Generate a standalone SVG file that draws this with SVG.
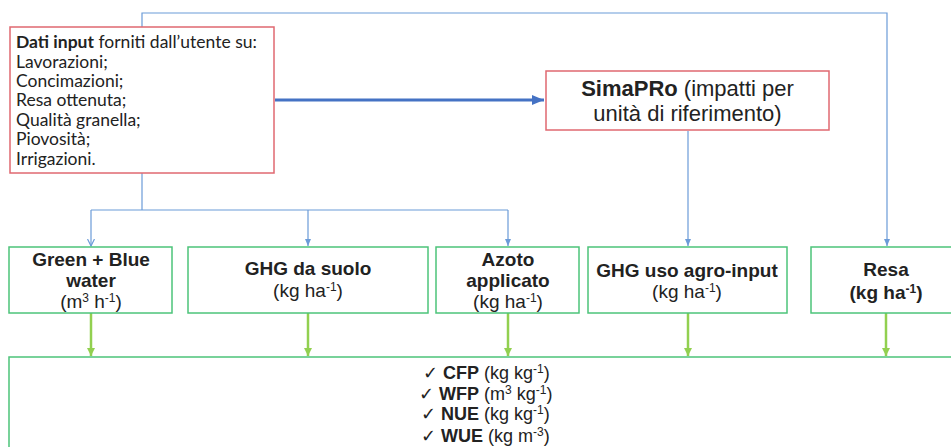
<svg xmlns="http://www.w3.org/2000/svg" width="951" height="447" viewBox="0 0 951 447">
<defs>
<style>
.red{fill:#fff;stroke:#e06870;stroke-width:1.5}
.grn{fill:#fff;stroke:#4cc47a;stroke-width:1.5}
.blue{fill:none;stroke:#6b9bd8;stroke-width:1.2}
.thick{fill:none;stroke:#4472c4;stroke-width:3}
.lime{fill:none;stroke:#92d050;stroke-width:2.5}
.cal{font-family:Lato,"Open Sans","Liberation Sans",sans-serif;font-size:17.5px;fill:#222}
.ar{font-family:"Liberation Sans",Arial,sans-serif;fill:#222}
.b{font-weight:bold}
.box{font-size:19px;text-anchor:middle}
.sup{font-size:12px}
</style>
<marker id="ab" markerWidth="8" markerHeight="8" refX="7" refY="4" orient="auto" markerUnits="userSpaceOnUse">
<path d="M0,0.5 L7,4 L0,7.5" fill="none" stroke="#6b9bd8" stroke-width="1.2"/>
</marker>
<marker id="abf" markerWidth="8" markerHeight="8" refX="7" refY="4" orient="auto" markerUnits="userSpaceOnUse">
<path d="M0,1 L7,4 L0,7 Z" fill="#6b9bd8"/>
</marker>
<marker id="at" markerWidth="14" markerHeight="12" refX="12" refY="6" orient="auto" markerUnits="userSpaceOnUse">
<path d="M0,1 L12,6 L0,11 Z" fill="#4472c4"/>
</marker>
<marker id="ag" markerWidth="10" markerHeight="10" refX="8" refY="5" orient="auto" markerUnits="userSpaceOnUse">
<path d="M0,1 L8,5 L0,9 Z" fill="#92d050"/>
</marker>
</defs>
<rect width="951" height="447" fill="#fff"/>

<g id="connectors">
<path class="blue" d="M142,27 V13 H887 V246" marker-end="url(#abf)"/>
<path class="blue" d="M142,173 V210"/>
<path class="blue" d="M91,210 H508"/>
<path class="blue" d="M91,210 V246" marker-end="url(#ab)"/>
<path class="blue" d="M308,210 V246" marker-end="url(#abf)"/>
<path class="blue" d="M508,210 V246" marker-end="url(#abf)"/>
<path class="blue" d="M688,131 V246" marker-end="url(#abf)"/>
<path class="thick" d="M275,100 H544" marker-end="url(#at)"/>
<path class="lime" d="M91,313 V356" marker-end="url(#ag)"/>
<path class="lime" d="M308,313 V356" marker-end="url(#ag)"/>
<path class="lime" d="M508,313 V356" marker-end="url(#ag)"/>
<path class="lime" d="M688,313 V356" marker-end="url(#ag)"/>
<path class="lime" d="M886,313 V356" marker-end="url(#ag)"/>
</g>

<g id="input">
<rect class="red" x="10" y="27" width="264" height="146"/>
<text class="cal" x="16" y="48"><tspan class="b">Dati input</tspan> forniti dall’utente su:</text>
<text class="cal" x="16" y="68">Lavorazioni;</text>
<text class="cal" x="16" y="87">Concimazioni;</text>
<text class="cal" x="16" y="106">Resa ottenuta;</text>
<text class="cal" x="16" y="126">Qualità granella;</text>
<text class="cal" x="16" y="145">Piovosità;</text>
<text class="cal" x="16" y="165">Irrigazioni.</text>
</g>

<g id="simapro">
<rect class="red" x="546" y="71" width="283" height="59"/>
<text class="ar" x="687.5" y="96" text-anchor="middle" font-size="22"><tspan class="b">SimaPRo</tspan> (impatti per</text>
<text class="ar" x="687.5" y="121" text-anchor="middle" font-size="22">unità di riferimento)</text>
</g>

<g id="green-blue">
<rect class="grn" x="9" y="247" width="163" height="66"/>
<text class="ar b box" x="91" y="266">Green + Blue</text>
<text class="ar b box" x="91" y="287">water</text>
<text class="ar box" x="91" y="308">(m<tspan class="sup" dy="-6">3</tspan><tspan dy="6"> h</tspan><tspan class="sup" dy="-6">-1</tspan><tspan dy="6">)</tspan></text>
</g>

<g id="ghg-suolo">
<rect class="grn" x="188" y="247" width="240" height="66"/>
<text class="ar b box" x="308" y="275">GHG da suolo</text>
<text class="ar box" x="308" y="297">(kg ha<tspan class="sup" dy="-6">-1</tspan><tspan dy="6">)</tspan></text>
</g>

<g id="azoto">
<rect class="grn" x="436" y="247" width="143" height="66"/>
<text class="ar b box" x="508" y="266">Azoto</text>
<text class="ar b box" x="508" y="287">applicato</text>
<text class="ar box" x="508" y="308">(kg ha<tspan class="sup" dy="-6">-1</tspan><tspan dy="6">)</tspan></text>
</g>

<g id="ghg-agro">
<rect class="grn" x="588" y="247" width="199" height="66"/>
<text class="ar b box" x="687" y="277">GHG uso agro-input</text>
<text class="ar box" x="687" y="298">(kg ha<tspan class="sup" dy="-6">-1</tspan><tspan dy="6">)</tspan></text>
</g>

<g id="resa">
<rect class="grn" x="811" y="247" width="150" height="66"/>
<text class="ar b box" x="886" y="276">Resa</text>
<text class="ar b box" x="886" y="299">(kg ha<tspan class="sup" dy="-6">-1</tspan><tspan dy="6">)</tspan></text>
</g>

<g id="outputs">
<rect class="grn" x="9" y="357" width="960" height="100"/>
<g class="ar" font-size="18">
<text x="423" y="379">✓ <tspan class="b">CFP</tspan> (kg kg<tspan class="sup" dy="-6">-1</tspan><tspan dy="6">)</tspan></text>
<text x="419" y="400">✓ <tspan class="b">WFP</tspan> (m<tspan class="sup" dy="-6">3</tspan><tspan dy="6"> kg</tspan><tspan class="sup" dy="-6">-1</tspan><tspan dy="6">)</tspan></text>
<text x="421" y="420">✓ <tspan class="b">NUE</tspan> (kg kg<tspan class="sup" dy="-6">-1</tspan><tspan dy="6">)</tspan></text>
<text x="421" y="442">✓ <tspan class="b">WUE</tspan> (kg m<tspan class="sup" dy="-6">-3</tspan><tspan dy="6">)</tspan></text>
</g>
</g>
</svg>
